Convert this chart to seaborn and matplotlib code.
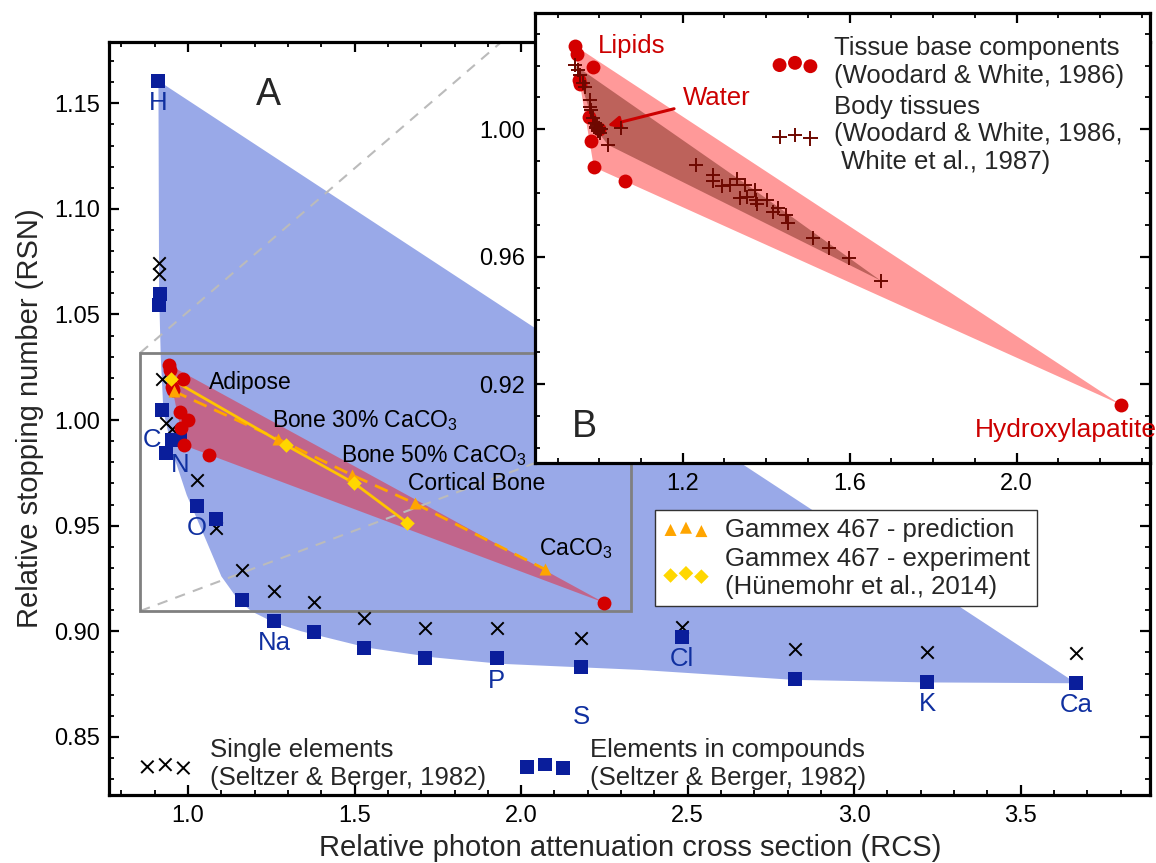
import numpy as np
import pandas as pd
import matplotlib
matplotlib.use("Agg")
import matplotlib.pyplot as plt
import seaborn as sns
from matplotlib.ticker import MultipleLocator, FormatStrFormatter

# ---------------- data ----------------
# Single elements (Seltzer & Berger, 1982)
single_rcs = [0.914, 0.914, 0.921, 0.934, 0.951, 1.026, 1.084, 1.161, 1.258, 1.379,
              1.528, 1.710, 1.927, 2.180, 2.483, 2.823, 3.220, 3.667]
single_rsn = [1.0742, 1.0692, 1.0193, 0.9985, 0.9958, 0.9716, 0.9488, 0.9290, 0.9192, 0.9137,
              0.9062, 0.9014, 0.9014, 0.8970, 0.9019, 0.8915, 0.8903, 0.8896]

# Elements in compounds (Seltzer & Berger, 1982)
comp_rcs = [0.911, 0.916, 0.914, 0.923, 0.953, 0.975, 0.933, 1.026, 1.084, 1.161,
            1.258, 1.379, 1.528, 1.710, 1.927, 2.180, 2.483, 2.823, 3.220, 3.667]
comp_rsn = [1.1606, 1.0596, 1.0545, 1.0048, 0.9906, 0.9905, 0.9845, 0.9593, 0.9532, 0.9148,
            0.9049, 0.8997, 0.8920, 0.8872, 0.8872, 0.8832, 0.8972, 0.8773, 0.8762, 0.8754]
comp_names = ["H", "", "", "", "C", "N", "", "O", "", "",
              "Na", "", "", "", "P", "S", "Cl", "", "K", "Ca"]

# outline of the shaded element region
region_rcs = [0.911, 0.913, 0.918, 0.926, 0.956, 0.996, 1.056, 1.10, 1.15, 1.19, 1.26,
              1.34, 1.54, 1.74, 1.94, 2.36, 2.82, 3.22, 3.667]
region_rsn = [1.1606, 1.06, 1.03, 1.004, 0.9835, 0.9645, 0.9424, 0.926, 0.915, 0.9095, 0.904,
              0.900, 0.8922, 0.8876, 0.8846, 0.8817, 0.8770, 0.8758, 0.8754]

# Tissue base components (Woodard & White, 1986)
base_rcs = [0.942, 0.947, 0.986, 0.952, 0.955, 0.975, 1.000, 0.980, 0.987, 1.062, 2.250]
base_rsn = [1.0262, 1.0236, 1.0194, 1.0156, 1.0143, 1.0040, 1.0000, 0.9963, 0.9881, 0.9837, 0.9135]

# Body tissues (Woodard & White, 1986; White et al., 1987)
body_rcs = [0.941, 0.949, 0.953, 0.961, 0.965, 0.977, 0.977, 0.981, 0.985, 0.989, 0.993,
            0.997, 1.001, 0.995, 0.999, 1.003, 0.991, 0.996, 1.053, 1.021,
            1.231, 1.273, 1.273, 1.295, 1.314, 1.330, 1.349, 1.337, 1.353, 1.372, 1.375,
            1.378, 1.402, 1.416, 1.428, 1.448, 1.452, 1.512, 1.550, 1.598, 1.674]
body_rsn = [1.0202, 1.0186, 1.0170, 1.0144, 1.0134, 1.0092, 1.0071, 1.0061, 1.0035, 1.0019, 1.0008,
            0.9998, 0.9987, 1.0012, 1.0004, 1.0000, 1.0003, 0.9993, 1.0003, 0.9951,
            0.9888, 0.9857, 0.9839, 0.9822, 0.9825, 0.9843, 0.9825, 0.9783, 0.9788, 0.9809, 0.9778,
            0.9765, 0.9778, 0.9741, 0.9752, 0.9731, 0.9707, 0.9658, 0.9626, 0.9595, 0.9525]

# Gammex 467
gammex_names = ["Adipose", "Bone 30% CaCO$_3$", "Bone 50% CaCO$_3$", "Cortical Bone", "CaCO$_3$"]
pred_rcs = [0.957, 1.269, 1.492, 1.680, 2.071]
pred_rsn = [1.0137, 0.9911, 0.9740, 0.9606, 0.9294]
exp_rcs = [0.950, 1.293, 1.499, 1.658]
exp_rsn = [1.0193, 0.9882, 0.9701, 0.9514]

# zoom box drawn in panel A
box_rcs = [0.856, 2.330]
box_rsn = [0.9096, 1.0318]

# ---------------- style ----------------
sns.set_theme(style="ticks")
plt.rcParams["font.family"] = ["Liberation Sans", "DejaVu Sans"]
plt.rcParams["mathtext.fontset"] = "custom"
plt.rcParams["mathtext.rm"] = "Liberation Sans"
plt.rcParams["mathtext.it"] = "Liberation Sans"

C_REGION = "#99A9E8"
C_BLUE = "#0A1E9B"
C_LBL = "#1030A0"
C_RED = "#D40000"
C_REDTXT = "#CC0000"
C_BODY = "#6E0800"
C_ORANGE = "#FFA500"
C_YELLOW = "#FFD700"
C_YLINE = "#FFC400"
LEG_FS = 18.5


def hull(xs, ys):
    pts = sorted(set(zip(xs, ys)))

    def cross(o, a, b):
        return (a[0] - o[0]) * (b[1] - o[1]) - (a[1] - o[1]) * (b[0] - o[0])

    lower, upper = [], []
    for p in pts:
        while len(lower) >= 2 and cross(lower[-2], lower[-1], p) <= 0:
            lower.pop()
        lower.append(p)
    for p in reversed(pts):
        while len(upper) >= 2 and cross(upper[-2], upper[-1], p) <= 0:
            upper.pop()
        upper.append(p)
    h = lower[:-1] + upper[:-1]
    return [p[0] for p in h], [p[1] for p in h]


def style_axes(a, xmaj, xmin, ymaj, ymin, xfmt, yfmt, lab):
    for s in a.spines.values():
        s.set_linewidth(2.3)
        s.set_color("black")
    a.xaxis.set_major_locator(MultipleLocator(xmaj))
    a.xaxis.set_minor_locator(MultipleLocator(xmin))
    a.yaxis.set_major_locator(MultipleLocator(ymaj))
    a.yaxis.set_minor_locator(MultipleLocator(ymin))
    a.xaxis.set_major_formatter(FormatStrFormatter(xfmt))
    a.yaxis.set_major_formatter(FormatStrFormatter(yfmt))
    a.tick_params(which="both", direction="in", top=True, right=True, colors="black")
    a.tick_params(which="major", length=7, width=1.6, labelsize=lab, pad=7)
    a.tick_params(which="minor", length=3.5, width=1.3)


fig = plt.figure(figsize=(11.56, 8.63), dpi=100)
ax = fig.add_axes([0.0947, 0.0788, 0.9003, 0.8725])
ax.set_facecolor("white")
ax.set_xlim(0.764, 3.889)
ax.set_ylim(0.8225, 1.179)

# shaded regions
ax.fill(region_rcs, region_rsn, color=C_REGION, lw=0, zorder=1)
hx, hy = hull(base_rcs, base_rsn)
ax.fill(hx, hy, color="red", alpha=0.4, lw=0, zorder=2)

# zoom box
ax.add_patch(plt.Rectangle((box_rcs[0], box_rsn[0]), box_rcs[1] - box_rcs[0],
                           box_rsn[1] - box_rsn[0], fill=False, ec="#808080", lw=2.0, zorder=3))

# Gammex lines
sns.lineplot(x=pred_rcs, y=pred_rsn, sort=False, ax=ax, color=C_ORANGE, lw=2.0,
             zorder=4, estimator=None)
ax.lines[-1].set_linestyle((0, (5, 3)))
sns.lineplot(x=exp_rcs, y=exp_rsn, sort=False, ax=ax, color=C_YLINE, lw=2.0, zorder=4,
             estimator=None)

# markers
sns.scatterplot(x=single_rcs, y=single_rsn, ax=ax, marker="x", s=80, color="black",
                linewidth=1.4, zorder=5, legend=False)
h_single = ax.collections[-1]
sns.scatterplot(x=comp_rcs, y=comp_rsn, ax=ax, marker="s", s=95, color=C_BLUE,
                linewidth=0, zorder=5, legend=False)
h_comp = ax.collections[-1]
sns.scatterplot(x=base_rcs, y=base_rsn, ax=ax, marker="o", s=100, color=C_RED,
                linewidth=0, zorder=6, legend=False)
h_base = ax.collections[-1]
sns.scatterplot(x=pred_rcs, y=pred_rsn, ax=ax, marker="^", s=75, color=C_ORANGE,
                linewidth=0, zorder=7, legend=False)
h_pred = ax.collections[-1]
sns.scatterplot(x=exp_rcs, y=exp_rsn, ax=ax, marker="D", s=55, color=C_YELLOW,
                linewidth=0, zorder=7, legend=False)
h_exp = ax.collections[-1]

# element labels
lbl_off = {"H": (0, -16), "C": (-15, 0), "N": (0, -18), "O": (0, -16), "Na": (0, -16),
           "P": (0, -16), "S": (0, -36), "Cl": (0, -16), "K": (0, -16), "Ca": (0, -16)}
for xv, yv, nm in zip(comp_rcs, comp_rsn, comp_names):
    if nm:
        ax.annotate(nm, (xv, yv), xytext=lbl_off[nm], textcoords="offset points",
                    ha="center", va="center", fontsize=18.5, color=C_LBL, zorder=8)

# Gammex labels
g_off = [(25, 6), (-4, 13), (-8, 14), (-5, 14), (-4, 15)]
for xv, yv, nm, off in zip(pred_rcs, pred_rsn, gammex_names, g_off):
    ax.annotate(nm, (xv, yv), xytext=off, textcoords="offset points",
                ha="left", va="center", fontsize=16.5, color="black", zorder=8)

ax.text(1.24, 1.154, "A", fontsize=27, ha="center", va="center")

style_axes(ax, 0.5, 0.1, 0.05, 0.01, "%.1f", "%.2f", 17)
ax.set_xlabel("Relative photon attenuation cross section (RCS)", fontsize=21, labelpad=5)
ax.set_ylabel("Relative stopping number (RSN)", fontsize=21, labelpad=7)

# legends panel A
leg1 = ax.legend([h_single], ["Single elements\n(Seltzer & Berger, 1982)"], loc="center left",
                 bbox_to_anchor=(0.029, 0.041), frameon=False, scatterpoints=3,
                 fontsize=LEG_FS, handlelength=2.0, handletextpad=0.75, borderpad=0,
                 borderaxespad=0)
ax.add_artist(leg1)
leg2 = ax.legend([h_comp], ["Elements in compounds\n(Seltzer & Berger, 1982)"], loc="center left",
                 bbox_to_anchor=(0.394, 0.041), frameon=False, scatterpoints=3,
                 fontsize=LEG_FS, handlelength=2.0, handletextpad=0.75, borderpad=0,
                 borderaxespad=0)
ax.add_artist(leg2)
leg3 = ax.legend([h_pred, h_exp], ["Gammex 467 - prediction",
                                   "Gammex 467 - experiment\n(Hünemohr et al., 2014)"],
                 loc="upper left", bbox_to_anchor=(0.5243, 0.3785), frameon=True,
                 fancybox=False, edgecolor="#333333", framealpha=1, scatterpoints=3,
                 fontsize=LEG_FS, handlelength=1.8, handletextpad=0.6, borderpad=0.3,
                 borderaxespad=0, labelspacing=0.2)
leg3.get_frame().set_linewidth(1.0)
leg3.set_zorder(9)

# ---------------- inset B ----------------
axi = fig.add_axes([0.4628, 0.4635, 0.5322, 0.5214])
axi.set_facecolor("white")
axi.set_xlim(0.846, 2.32)
axi.set_ylim(0.8952, 1.0365)
axi.set_zorder(10)

bx, by = hull(base_rcs, base_rsn)
axi.fill(bx, by, color="red", alpha=0.4, lw=0, zorder=1)
tx, ty = hull(body_rcs, body_rsn)
axi.fill(tx, ty, color="#5A1000", alpha=0.4, lw=0, zorder=2)

sns.scatterplot(x=base_rcs, y=base_rsn, ax=axi, marker="o", s=100, color=C_RED,
                linewidth=0, zorder=4, legend=False)
hi_base = axi.collections[-1]
sns.scatterplot(x=body_rcs, y=body_rsn, ax=axi, marker="+", s=110, color=C_BODY,
                linewidth=1.4, zorder=5, legend=False)
hi_body = axi.collections[-1]

axi.text(0.996, 1.0262, "Lipids", fontsize=18.5, color=C_REDTXT, ha="left", va="center")
axi.annotate("Water", xy=(1.02, 1.0012), xytext=(1.2, 1.0098), fontsize=18.5, color=C_REDTXT,
             ha="left", va="center",
             arrowprops=dict(arrowstyle="-|>", color=C_REDTXT, lw=2.2, mutation_scale=18,
                             shrinkA=4, shrinkB=0))
axi.text(2.335, 0.9056, "Hydroxylapatite", fontsize=19, color=C_REDTXT, ha="right",
         va="center", clip_on=False)
axi.text(0.965, 0.9065, "B", fontsize=27, ha="center", va="center")

style_axes(axi, 0.4, 0.1, 0.04, 0.01, "%.1f", "%.2f", 17)
axi.set_xlabel("")
axi.set_ylabel("")

axi.legend([hi_base, hi_body], ["Tissue base components\n(Woodard & White, 1986)",
                                "Body tissues\n(Woodard & White, 1986,\n White et al., 1987)"],
           loc="upper left", bbox_to_anchor=(0.385, 0.948), frameon=False, scatterpoints=3,
           fontsize=LEG_FS, handlelength=1.8, handletextpad=0.6, borderpad=0, borderaxespad=0,
           labelspacing=0.25)

# connector lines from the zoom box to the inset
fig.canvas.draw()
inv = ax.transData.inverted()
tl = inv.transform(axi.transAxes.transform((0, 1)))
bl = inv.transform(axi.transAxes.transform((0, 0)))
ax.plot([box_rcs[0], tl[0]], [box_rsn[1], tl[1]], color="#BBBBBB", lw=1.5,
        ls=(0, (5, 4)), zorder=2.5)
ax.plot([box_rcs[0], bl[0]], [box_rsn[0], bl[1]], color="#BBBBBB", lw=1.5,
        ls=(0, (5, 4)), zorder=2.5)

fig.savefig("out.png", dpi=100)
